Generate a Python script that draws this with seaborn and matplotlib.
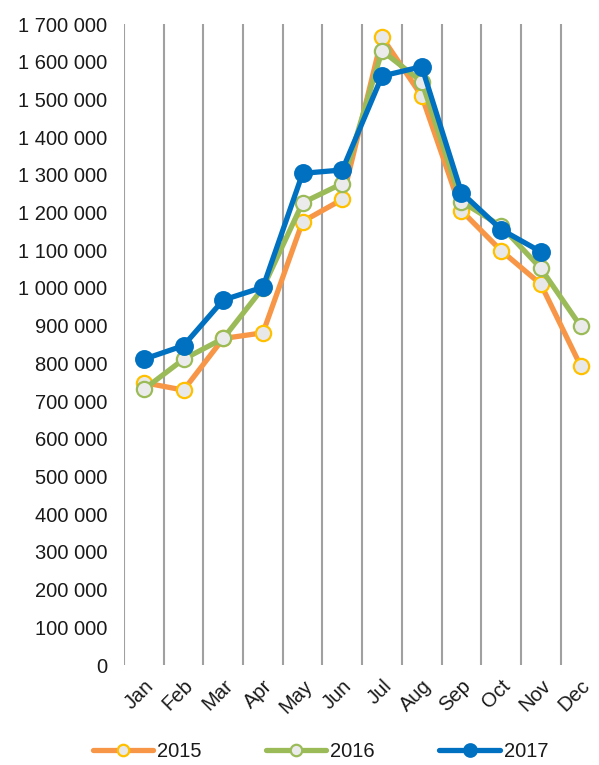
import numpy as np
import pandas as pd
import matplotlib
matplotlib.use("Agg")
import matplotlib.pyplot as plt
import seaborn as sns

months = ["Jan", "Feb", "Mar", "Apr", "May", "Jun",
          "Jul", "Aug", "Sep", "Oct", "Nov", "Dec"]
y2015 = [749000, 729000, 866000, 881000, 1176000, 1235000,
         1665000, 1509000, 1205000, 1099000, 1010000, 794000]
y2016 = [731000, 811000, 866000, 1000000, 1226000, 1277000,
         1629000, 1547000, 1229000, 1164000, 1052000, 899000]
y2017 = [811000, 847000, 968000, 1002000, 1304000, 1313000,
         1562000, 1587000, 1253000, 1155000, 1096000, np.nan]

sns.set_style("white")
plt.rcParams['font.family'] = ['Liberation Sans', 'DejaVu Sans']
plt.rcParams['text.color'] = '#1a1a1a'

fig = plt.figure(figsize=(5.99, 7.65), dpi=100)
ax = fig.add_axes([0.207, 0.1307, 0.7953, 0.8379])

series = [
    ("2015", y2015, "#F79646", "#E8E8E8", "#FFC000", 11),
    ("2016", y2016, "#9BBB59", "#EBEBEB", "#9BBB59", 11),
    ("2017", y2017, "#0070C0", "#0070C0", "#0070C0", 12),
]
for name, vals, lc, fc, ec, ms in series:
    df = pd.DataFrame({"month": months, "value": vals}).dropna()
    sns.lineplot(data=df, x="month", y="value", ax=ax, sort=False,
                 color=lc, linewidth=3.8, marker="o", markersize=ms,
                 markerfacecolor=fc, markeredgecolor=ec, markeredgewidth=1.6,
                 label=name, legend=False)

ax.set_xlim(-0.5, 11.5)
ax.set_ylim(0, 1700000)
ax.set_yticks(np.arange(0, 1700001, 100000))
ax.set_yticklabels([f"{v:,}".replace(",", " ") for v in range(0, 1700001, 100000)])
ax.set_xticks(range(12))
ax.set_xticklabels(months, rotation=45, ha="right", rotation_mode="anchor")
ax.set_xticks(np.arange(-0.5, 11.5, 1), minor=True)
ax.grid(False)
ax.grid(True, which="minor", axis="x", color="#A0A0A0", linewidth=1.5)
ax.set_axisbelow(True)
ax.tick_params(axis="both", which="both", length=0, labelsize=14.5,
               labelcolor="#1a1a1a")
ax.tick_params(axis="y", pad=12)
ax.tick_params(axis="x", pad=8)
ax.set_xlabel("")
ax.set_ylabel("")
for s in ax.spines.values():
    s.set_visible(False)

handles, labels = ax.get_legend_handles_labels()
fig.legend(handles, labels, loc="lower center", bbox_to_anchor=(0.535, -0.018),
           ncol=3, frameon=False, fontsize=14.5, handlelength=3.0,
           columnspacing=3.2, handletextpad=0.2, markerscale=0.75)

fig.savefig("out.png", dpi=100)
